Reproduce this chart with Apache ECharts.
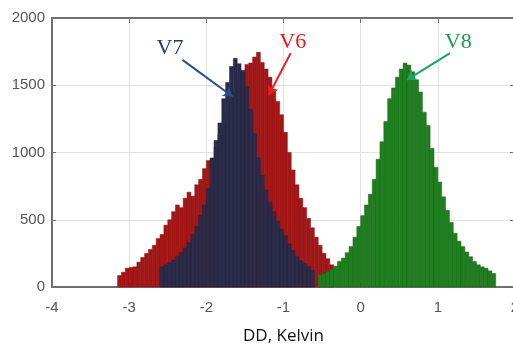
<!DOCTYPE html>
<html>
<head>
<meta charset="utf-8">
<script src="https://cdn.jsdelivr.net/npm/echarts@6/dist/echarts.min.js"></script>
<style>
  html, body { margin: 0; padding: 0; background: #fff; }
  #main { width: 513px; height: 347px; }
</style>
</head>
<body>
<div id="main"></div>
<script>
// histogram bins (DD, Kelvin), counts
var binWidth = 0.05;

var v6Start = -3.15;
var v6Counts = [85, 110, 140, 145, 150, 185, 220, 250, 280, 310,
    360, 390, 460, 500, 560, 610, 590, 660, 705, 675,
    760, 800, 880, 940, 950, 1040, 1130, 1220, 1300, 1380,
    1460, 1540, 1600, 1655, 1665, 1710, 1745, 1670, 1620, 1560,
    1470, 1380, 1280, 1150, 1000, 870, 760, 660, 590, 510,
    440, 370, 310, 250, 210, 165];

var v7Start = -2.60;
var v7Counts = [150, 165, 180, 200, 225, 255, 290, 330, 390, 450,
    530, 610, 730, 960, 1090, 1220, 1400, 1520, 1640, 1700,
    1660, 1610, 1490, 1320, 1140, 960, 830, 720, 630, 560,
    490, 430, 380, 320, 270, 225, 195, 175, 150, 125];

var v8Start = -0.55;
var v8Counts = [90, 100, 115, 130, 155, 190, 215, 255, 300, 370,
    450, 530, 610, 690, 800, 950, 1080, 1230, 1400, 1480,
    1560, 1620, 1665, 1650, 1600, 1540, 1450, 1300, 1200, 1030,
    890, 780, 670, 570, 480, 400, 340, 300, 260, 225,
    190, 165, 150, 140, 120, 100];

// annotation: label position and arrow [from, to] in data units
var v7Label = [-2.47, 1778], v7Arrow = [[-2.31, 1689], [-1.66, 1416]];
var v6Label = [-0.88, 1823], v6Arrow = [[-0.907, 1739], [-1.19, 1428]];
var v8Label = [1.265, 1823], v8Arrow = [[1.157, 1739], [0.60, 1540]];

function toBins(start, counts) {
    var res = [];
    for (var i = 0; i < counts.length; i++) {
        var x0 = start + i * binWidth;
        res.push([x0, x0 + binWidth, counts[i]]);
    }
    return res;
}

function histSeries(name, start, counts, fill, edge, z, labelPos, arrow, textColor, arrowColor) {
    return {
        name: name,
        type: 'custom',
        z: z,
        encode: {x: [0, 1], y: 2},
        data: toBins(start, counts),
        renderItem: function (params, api) {
            var p0 = api.coord([api.value(0), api.value(2)]);
            var p1 = api.coord([api.value(1), 0]);
            return {
                type: 'rect',
                shape: {x: p0[0], y: p0[1], width: p1[0] - p0[0], height: p1[1] - p0[1]},
                style: {fill: fill, stroke: edge, lineWidth: 0.5}
            };
        },
        markLine: {
            silent: true,
            animation: false,
            symbol: ['none', 'arrow'],
            symbolSize: 9,
            label: {show: false},
            lineStyle: {color: arrowColor, width: 2, type: 'solid'},
            data: [[{coord: arrow[0]}, {coord: arrow[1]}]]
        },
        markPoint: {
            silent: true,
            animation: false,
            symbol: 'circle',
            symbolSize: 0,
            label: {
                show: true,
                position: 'inside',
                formatter: name,
                color: textColor,
                fontFamily: 'Liberation Serif',
                fontSize: 22
            },
            data: [{coord: labelPos}]
        }
    };
}

var myChart = echarts.init(document.getElementById('main'));

var frameColor = '#707070';
var labelColor = '#555';
var plainNumber = function (v) { return String(v); };

var option = {
    animation: false,
    backgroundColor: '#fff',
    grid: {left: 52, top: 18, width: 463, height: 269, outerBoundsMode: 'none', containLabel: false},
    xAxis: [{
        type: 'value',
        min: -4,
        max: 2,
        interval: 1,
        name: 'DD, Kelvin',
        nameLocation: 'middle',
        nameGap: 41,
        nameTextStyle: {color: '#111', fontSize: 17, fontFamily: 'Open Sans'},
        axisLine: {show: true, onZero: false, lineStyle: {color: frameColor, width: 2}},
        axisTick: {show: true, inside: true, length: 4, lineStyle: {color: frameColor}},
        axisLabel: {color: labelColor, fontSize: 15, margin: 13, fontFamily: 'Liberation Sans', formatter: plainNumber},
        splitLine: {show: true, lineStyle: {color: '#e2e2e2'}}
    }, {
        type: 'value',
        position: 'top',
        min: -4,
        max: 2,
        interval: 1,
        axisLine: {show: true, onZero: false, lineStyle: {color: frameColor, width: 2}},
        axisTick: {show: true, inside: true, length: 5, lineStyle: {color: frameColor}},
        axisLabel: {show: false},
        splitLine: {show: false}
    }],
    yAxis: [{
        type: 'value',
        min: 0,
        max: 2000,
        interval: 500,
        axisLine: {show: true, onZero: false, lineStyle: {color: frameColor, width: 2}},
        axisTick: {show: true, inside: true, length: 4, lineStyle: {color: frameColor}},
        axisLabel: {color: labelColor, fontSize: 15, margin: 7, fontFamily: 'Liberation Sans', formatter: plainNumber},
        splitLine: {show: true, lineStyle: {color: '#e2e2e2'}}
    }, {
        type: 'value',
        position: 'right',
        min: 0,
        max: 2000,
        interval: 500,
        axisLine: {show: true, onZero: false, lineStyle: {color: frameColor, width: 2}},
        axisTick: {show: true, inside: true, length: 5, lineStyle: {color: frameColor}},
        axisLabel: {show: false},
        splitLine: {show: false}
    }],
    series: [
        histSeries('V6', v6Start, v6Counts, '#a51616', '#8a0f0f', 2, v6Label, v6Arrow, '#e8161c', '#f01c1c'),
        histSeries('V7', v7Start, v7Counts, '#2b2b4a', '#22223d', 3, v7Label, v7Arrow, '#1f3b6b', '#2a5088'),
        histSeries('V8', v8Start, v8Counts, '#1f7f1f', '#176717', 4, v8Label, v8Arrow, '#1a9a52', '#16a85c')
    ]
};

myChart.setOption(option);
</script>
</body>
</html>
